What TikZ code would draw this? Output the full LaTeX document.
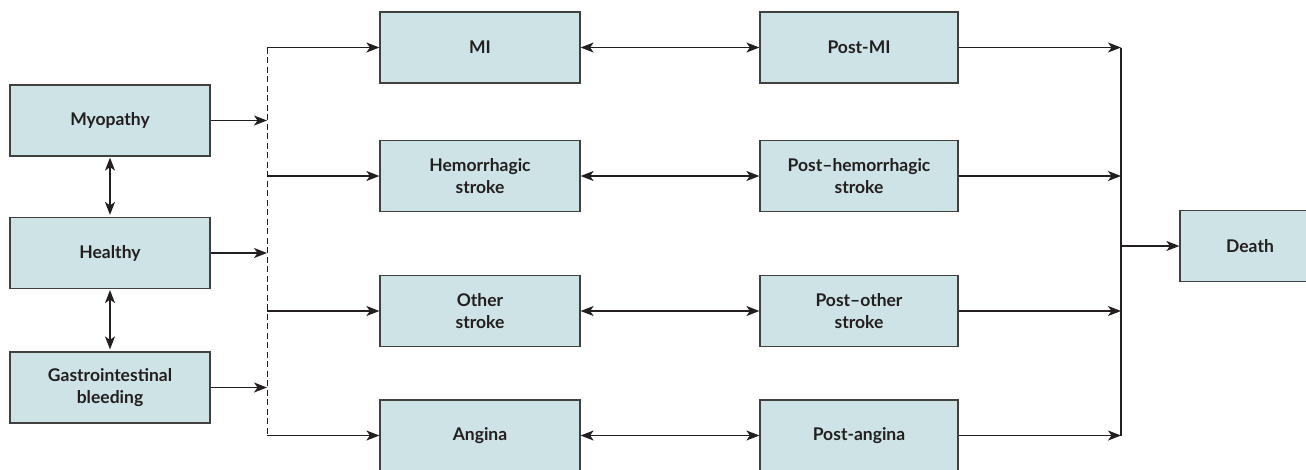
\documentclass[tikz,border=0pt]{standalone}
\usepackage{fontspec}
\setmainfont{Lato}
\usetikzlibrary{arrows.meta}
\definecolor{boxfill}{HTML}{CDE3E6}
\definecolor{boxline}{HTML}{404040}
\definecolor{ink}{HTML}{231F20}

\tikzset{
  box/.style={draw=boxline, line width=1.2pt, fill=boxfill, text=ink,
    minimum width=200pt, minimum height=71pt, align=center,
    font=\fontsize{17.5}{22}\selectfont\bfseries},
  arr/.style={draw=ink, line width=1.3pt, -{Stealth[length=13pt,width=10pt,inset=3.5pt]}},
  darr/.style={arr, {Stealth[length=13pt,width=10pt,inset=3.5pt]}-{Stealth[length=13pt,width=10pt,inset=3.5pt]}}
}

\begin{document}
\begin{tikzpicture}[x=1pt,y=-1pt]
  \useasboundingbox (0,0) rectangle (1306,469);
  \node[box] (myo) at (110,120.5) {Myopathy};   % left column
  \node[box] (healthy) at (110,253) {Healthy};
  \node[box] (gib) at (110,387.5) {Gastrointestinal\\bleeding};
  \node[box] (mi) at (480,47.5) {MI};   % event boxes
  \node[box] (hem) at (480,176) {Hemorrhagic\\stroke};
  \node[box] (oth) at (480,311) {Other\\stroke};
  \node[box] (ang) at (480,435.5) {Angina};
  \node[box, minimum width=198pt] (pmi) at (859,47.5) {Post-MI};   % post-event boxes
  \node[box, minimum width=198pt] (phem) at (859,176) {Post--hemorrhagic\\stroke};
  \node[box, minimum width=198pt] (poth) at (859,311) {Post--other\\stroke};
  \node[box, minimum width=198pt] (pang) at (859,435.5) {Post-angina};
  \node[box, minimum width=140pt] (death) at (1250,246) {Death};   % absorbing state, runs off the page
  \coordinate (busl) at (267,47.5);   % dashed split line
  \coordinate (busr) at (1121,47.5);  % collecting line
  \draw[ink, line width=1pt, dash pattern=on 6pt off 3.5pt] (busl) -- (busl |- ang.west);
  \draw[ink, line width=1.2pt] (busr) -- (busr |- pang.east);
  \draw[arr] (myo.east) -- (myo.east -| busl);
  \draw[arr] (healthy.east) -- (healthy.east -| busl);
  \draw[arr] (gib.east) -- (gib.east -| busl);
  \draw[darr] ([yshift=-1pt]myo.south) -- ([yshift=2pt]healthy.north);
  \draw[darr] ([yshift=-1pt]healthy.south) -- ([yshift=2pt]gib.north);
  \foreach \ev/\pst in {mi/pmi,hem/phem,oth/poth,ang/pang}{
    \draw[arr] (\ev.west -| busl) -- (\ev.west);
    \draw[darr] (\ev.east) -- (\pst.west);
    \draw[arr] (\pst.east) -- (\pst.east -| busr);
  }
  \draw[arr] (death.west -| busr) -- (death.west);
\end{tikzpicture}
\end{document}
